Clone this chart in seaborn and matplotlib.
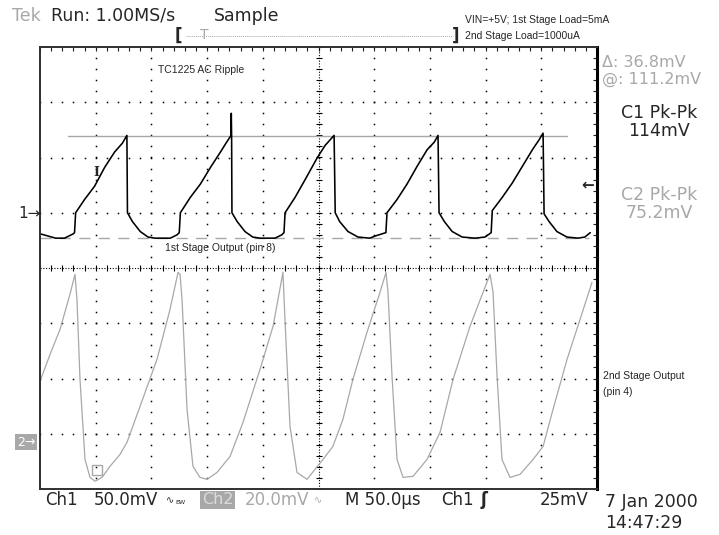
import numpy as np
import matplotlib
matplotlib.use("Agg")
import matplotlib.pyplot as plt
import seaborn as sns

# Ch1 (1st stage output): time in us, mV relative to ch1 ground marker
ch1_t = [0, 7, 14, 22, 30, 31, 32, 40, 49, 58, 67, 74, 78, 78.5, 83, 90, 97, 103, 117, 123,
         125, 126, 135, 144, 153, 162, 167, 171.5, 171.7, 172, 172.3, 177, 184, 191, 197.5, 211, 217, 219, 220, 229,
         238, 249, 256, 264, 265, 269, 276.5, 285.5, 296, 301, 310.5, 311.5, 320.5, 329.5, 338.5, 347.5, 354, 357.3, 358.2, 363,
         370, 379, 390.5, 399.5, 405, 406, 415, 424, 433, 442, 448, 451.6, 452.5, 457, 464, 473, 483, 489, 494]
ch1_mv = [-19, -21, -23, -23, -19, -18, 0, 12, 24, 41, 55, 63, 70, 0, -8, -17, -22, -23, -23, -20,
          -18, 0, 14, 26, 41, 55, 63, 70, 90, 70, 0, -8, -17, -22, -23, -23, -20, -18, 0, 14,
          30, 50, 61, 70, 0, -8, -17, -22, -23, -21, -18, 0, 12, 26, 42, 57, 64, 70, 0, -8,
          -17, -22, -23, -22, -18, 2, 14, 27, 42, 57, 66, 72, -1, -8, -17, -22, -23, -22, -18]

# Ch2 (2nd stage output)
ch2_t = [0, 9, 18, 26.9, 31.4, 33.2, 35.9, 40.4, 44.9, 49.4, 55.7, 62.8, 71.8, 78.1, 89.8, 105, 116.7, 123.9, 125.7, 127.5,
         132, 137.3, 143.6, 149.9, 158.9, 170.6, 182.2, 197.5, 209.2, 218.1, 219.9, 224.4, 230.7, 239.7, 254, 262.9, 271.9, 280.9, 293.5, 305.2,
         310.6, 312.4, 316, 320.5, 325.9, 334.9, 347.4, 359.1, 370.8, 386, 397.7, 404, 406.7, 410.3, 414.7, 421.9, 430.9, 442.6, 451.6, 460.5,
         473.1, 484.8, 495.5]
ch2_mv = [21.4, 31.1, 40.2, 52.9, 60.1, 51, 22.1, -6.9, -13.4, -14.8, -13.4, -9.4, -5.1, -0.7, 12.3, 29.3, 47.4, 60.8, 60.1, 51,
          11.2, -9.4, -13.4, -14.1, -11.6, -5.8, 6.5, 25.7, 41.3, 60.8, 43.8, 5.1, -11.6, -14.1, -6.9, -2.2, 7.6, 22.1, 39.1, 53.6,
          60.8, 53.6, 23.2, -6.9, -13.4, -13, -6.9, 2.9, 22.1, 41.3, 53.6, 60.1, 53.6, 23.2, -6.9, -13.4, -12.3, -6.9, -2.2, 11.2,
          29.3, 43.8, 57.2]

# scope settings
ch1_scale = 50.0   # mV/div
ch2_scale = 20.0   # mV/div
time_scale = 50.0  # us/div
ch1_pos = 1.0      # divisions
ch2_pos = -3.12
cursor_b = 0.55    # divisions
cursor_delta = 36.8  # mV (ch2 scale)

GRAY = "#a8a8a8"
W, H = 719, 535
FS = 12.5

sns.set_style("white")
plt.rcParams["font.family"] = ["DejaVu Sans"]

fig = plt.figure(figsize=(W / 100, H / 100), dpi=100)


def px(x, y):
    return x / W, 1 - y / H


ax = fig.add_axes([40 / W, 1 - 489 / H, 557 / W, 442 / H])
ax.set_xlim(0, 10 * time_scale)
ax.set_ylim(-4, 4)
for side in ["left", "top", "bottom"]:
    ax.spines[side].set_linewidth(1.4)
    ax.spines[side].set_color("#303030")
ax.spines["right"].set_linewidth(2.2)
ax.spines["right"].set_color("black")
ax.set_xticks(np.arange(0, 501, 10))
ax.set_yticks(np.arange(-4, 4.01, 0.2))
ax.tick_params(direction="in", length=3, width=0.8, top=True, right=True,
               labelbottom=False, labelleft=False, color="#202020")

# graticule
dots_y = np.arange(-4, 4.01, 0.2)
dots_x = np.arange(0, 500.1, 10)
for k in range(1, 10):
    if k == 5:
        continue
    ax.plot([k * time_scale] * len(dots_y), dots_y, ls="none", marker="s", ms=1.1, color="black", mew=0)
for j in range(-3, 4):
    if j == 0:
        continue
    ax.plot(dots_x, [j] * len(dots_x), ls="none", marker="s", ms=1.1, color="black", mew=0)
ax.axvline(250, ls=(0, (1, 1.5)), lw=0.8, color="black")
ax.axhline(0, ls=(0, (1, 1.5)), lw=0.8, color="black")
ax.plot(dots_x, [0] * len(dots_x), ls="none", marker="|", ms=5, mew=0.8, color="black")
ax.plot([250] * len(dots_y), dots_y, ls="none", marker="_", ms=5, mew=0.8, color="black")

# cursors
cursor_a = cursor_b + cursor_delta / ch2_scale
ax.plot([25, 473], [cursor_a, cursor_a], color=GRAY, lw=1.0)
ax.plot([0, 493], [cursor_b, cursor_b], color=GRAY, lw=1.0, ls=(0, (8, 6)))

# traces
sns.lineplot(x=np.array(ch2_t), y=np.array(ch2_mv) / ch2_scale + ch2_pos, sort=False,
             estimator=None, color=GRAY, lw=0.9, ax=ax)
sns.lineplot(x=np.array(ch1_t), y=np.array(ch1_mv) / ch1_scale + ch1_pos, sort=False,
             estimator=None, color="black", lw=1.15, ax=ax)

# trigger position marks
ax.text(51, 1.72, "I", fontsize=9, fontweight="bold", family="DejaVu Serif", ha="center", va="center")
ax.plot([51], [-3.65], marker="s", ms=7, mfc="none", mec=GRAY, mew=1)

# annotations inside the screen
fig.text(*px(158, 70), "TC1225 AC Ripple", fontsize=7.5, family="Liberation Sans", va="center")
fig.text(*px(165, 248), "1st Stage Output (pin 8)", fontsize=7.5, family="Liberation Sans", va="center")

# header
fig.text(*px(12, 16), "Tek", fontsize=FS, color=GRAY, va="center")
fig.text(*px(51, 16), "Run: 1.00MS/s", fontsize=FS, va="center")
fig.text(*px(214, 16), "Sample", fontsize=FS, va="center")
fig.text(*px(175, 36), "[", fontsize=12, fontweight="bold", va="center")
fig.text(*px(452, 36), "]", fontsize=12, fontweight="bold", va="center")
fig.lines.append(plt.Line2D([186 / W, 452 / W], [1 - 36 / H] * 2, transform=fig.transFigure,
                            color=GRAY, lw=0.7, ls=(0, (1, 1))))
fig.text(*px(200, 35), "T", fontsize=10, color=GRAY, va="center")
fig.text(*px(465, 20), "VIN=+5V; 1st Stage Load=5mA", fontsize=7.5, family="Liberation Sans", va="center")
fig.text(*px(465, 36), "2nd Stage Load=1000uA", fontsize=7.5, family="Liberation Sans", va="center")

# channel markers
fig.text(*px(18, 213), "1\u2192", fontsize=11, va="center")
fig.text(*px(17, 442), "2\u2192", fontsize=9, color="white", va="center",
         bbox=dict(boxstyle="square,pad=0.15", fc=GRAY, ec="none"))
fig.text(*px(581, 185), "\u2190", fontsize=11, fontweight="bold", va="center")

# right readouts
fig.text(*px(602, 62), "\u0394: 36.8mV", fontsize=11.5, color=GRAY, va="center")
fig.text(*px(602, 79), "@: 111.2mV", fontsize=11.5, color=GRAY, va="center")
fig.text(*px(659, 113), "C1 Pk-Pk", fontsize=FS, ha="center", va="center")
fig.text(*px(659, 131), "114mV", fontsize=FS, ha="center", va="center")
fig.text(*px(659, 195), "C2 Pk-Pk", fontsize=FS, color=GRAY, ha="center", va="center")
fig.text(*px(659, 213), "75.2mV", fontsize=FS, color=GRAY, ha="center", va="center")
fig.text(*px(603, 376), "2nd Stage Output", fontsize=7.5, family="Liberation Sans", va="center")
fig.text(*px(603, 392), "(pin 4)", fontsize=7.5, family="Liberation Sans", va="center")

# bottom status line
BS = 12
fig.text(*px(45, 500), "Ch1", fontsize=BS, va="center")
fig.text(*px(94, 500), "50.0mV", fontsize=BS, va="center")
fig.text(*px(166, 500), "\u223f", fontsize=7, va="center")
fig.text(*px(175, 503), "BW", fontsize=4.5, va="center")
fig.text(*px(202, 500), "Ch2", fontsize=11.5, color="#dcdcdc", va="center",
         bbox=dict(boxstyle="square,pad=0.1", fc=GRAY, ec="none"))
fig.text(*px(245, 500), "20.0mV", fontsize=BS, color=GRAY, va="center")
fig.text(*px(314, 500), "\u223f", fontsize=7, color=GRAY, va="center")
fig.text(*px(345, 500), "M 50.0\u00b5s", fontsize=BS, va="center")
fig.text(*px(441, 500), "Ch1", fontsize=BS, va="center")
fig.text(*px(481, 500), "\u0283", fontsize=12, fontweight="bold", va="center")
fig.text(*px(540, 500), "25mV", fontsize=BS, va="center")
fig.text(*px(605, 502), "7 Jan 2000", fontsize=FS, va="center")
fig.text(*px(605, 523), "14:47:29", fontsize=FS, va="center")

fig.savefig("out.png", dpi=100, facecolor="white")
